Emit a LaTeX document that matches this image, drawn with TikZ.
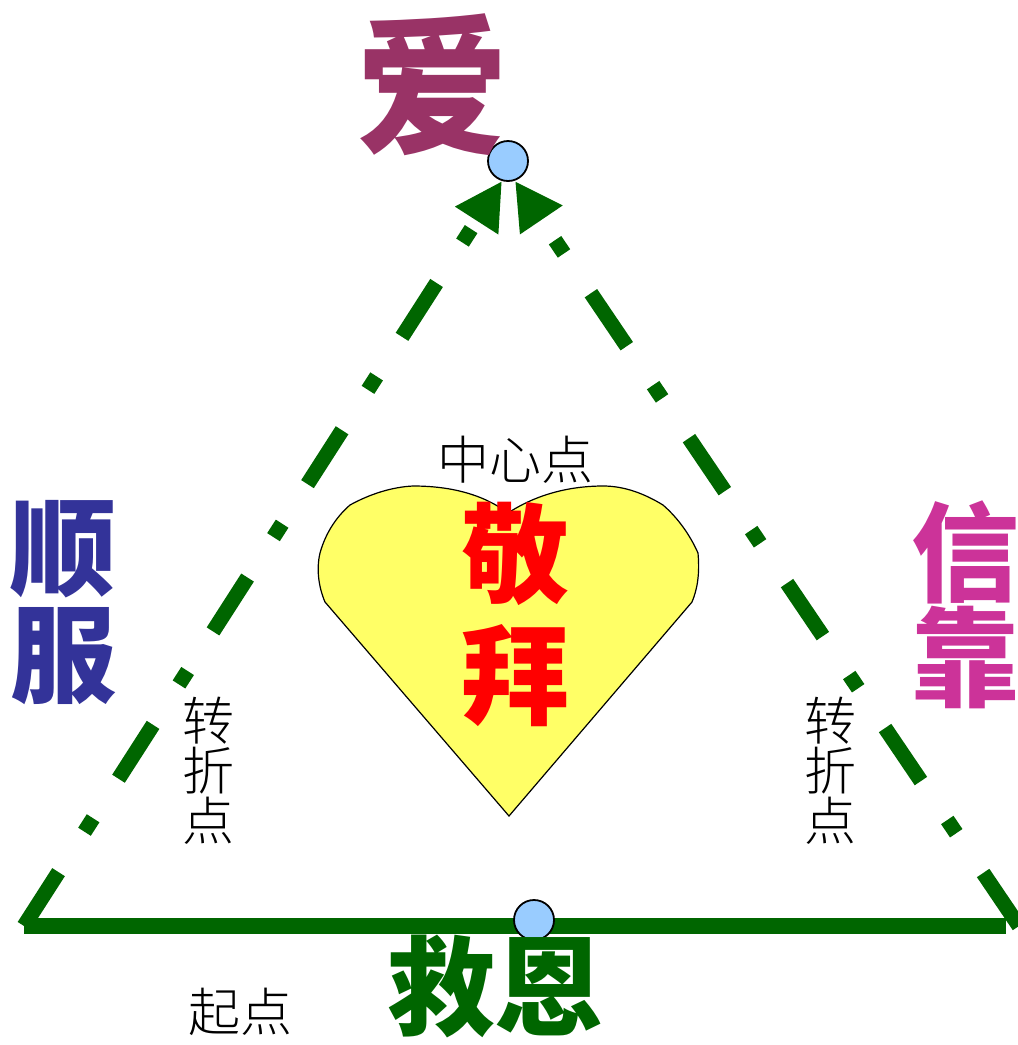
\documentclass[tikz,border=0pt]{standalone}
\usepackage{fontspec}
\usetikzlibrary{arrows.meta}
\setmainfont{Noto Sans CJK SC}
\newfontfamily\lightcjk{Noto Sans CJK SC Light}
\definecolor{dkgreen}{HTML}{006600}
\definecolor{lovecol}{HTML}{993366}
\definecolor{obeycol}{HTML}{333399}
\definecolor{trustcol}{HTML}{CC3399}
\definecolor{dotcol}{HTML}{99CCFF}
\definecolor{heartcol}{HTML}{FFFF66}
\tikzset{
  sideline/.style={dkgreen,line width=15pt,dash pattern=on 64pt off 48pt on 16pt off 47pt,
    -{Triangle[length=47pt,width=48pt]}},
  baseline/.style={dkgreen,line width=16pt},
  joint/.style={circle,draw=black,line width=1.8pt,fill=dotcol,minimum size=40pt,inner sep=0pt},
  bigword/.style={font=\bfseries\fontsize{#1}{#1}\selectfont,inner sep=0pt,align=center},
  smallword/.style={font=\lightcjk\fontsize{52}{50}\selectfont,inner sep=0pt,align=center}
}
\begin{document}
\begin{tikzpicture}[x=1pt,y=-1pt]
  \useasboundingbox (0,0) rectangle (1018,1045);
  \clip (0,0) rectangle (1018,1045);
  % triangle
  \coordinate (leftend) at (24,926);
  \coordinate (rightend) at (1019,926);
  \coordinate (lefttip) at (502,181);
  \coordinate (righttip) at (515,181);
  \coordinate (baseleft) at (24,926);
  \coordinate (baseright) at (1006,926);
  \draw[sideline] (leftend)--(lefttip);
  \draw[sideline] (rightend)--(righttip);
  \draw[baseline] (baseleft)--(baseright);
  % heart
  \draw[fill=heartcol,line width=1.2pt] (509,816)--(692,602)
    .. controls (697,590) and (700,575) .. (698,553)
    .. controls (690,535) and (678,518) .. (663,505)
    .. controls (645,494) and (625,486) .. (603,486)
    .. controls (575,486) and (540,492) .. (508,513)
    .. controls (480,492) and (445,486) .. (413,486)
    .. controls (392,487) and (370,494) .. (350,505)
    .. controls (335,518) and (325,535) .. (320,553)
    .. controls (316,570) and (319,588) .. (325,602)--cycle;
  \node[joint] (topdot) at (508,161) {};
  \node[joint] (basedot) at (534,920) {};
  % words
  \node[bigword=152,text=lovecol] (love) at (432,85) {爱};
  \node[bigword=108,text=red] (worship) at (515,614) {敬\\[14pt]拜};
  \node[bigword=106,text=obeycol] (obey) at (63,603) {顺\\[1pt]服};
  \node[bigword=108,text=trustcol] (trust) at (965,605) {信\\[-3pt]靠};
  \node[bigword=108,text=dkgreen] (grace) at (495,987) {救恩};
  \node[smallword] (center) at (515,460) {中心点};
  \node[smallword] (turnl) at (208,771) {转\\折\\点};
  \node[smallword] (turnr) at (830,771) {转\\折\\点};
  \node[smallword] (start) at (240,1012) {起点};
\end{tikzpicture}
\end{document}
